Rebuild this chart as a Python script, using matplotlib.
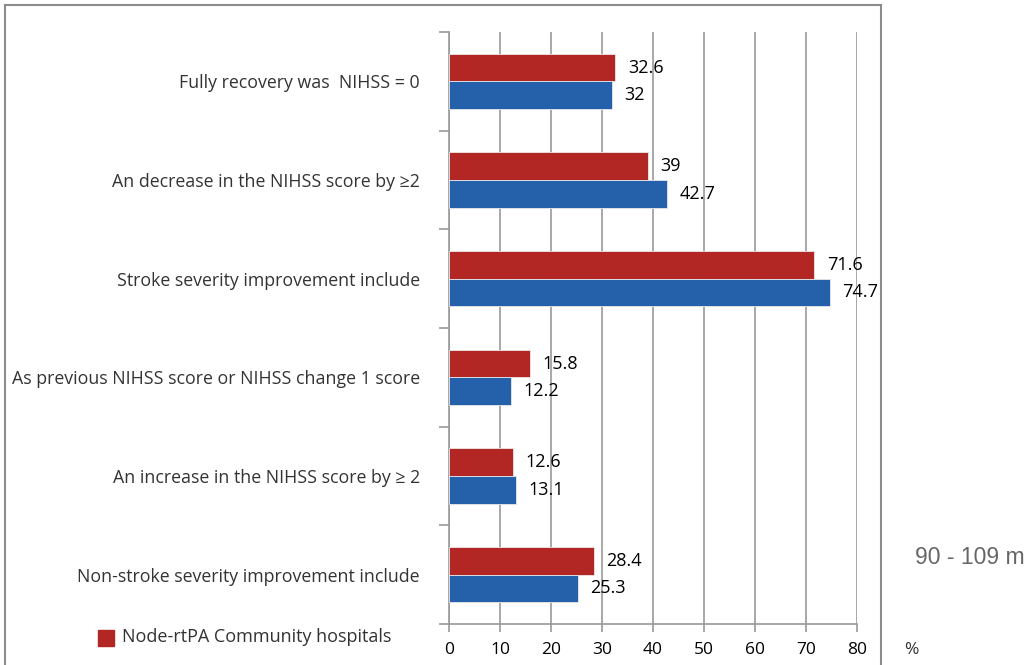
import matplotlib
matplotlib.use("Agg")
import matplotlib.pyplot as plt
import numpy as np
from matplotlib.lines import Line2D
from matplotlib.patches import Rectangle

categories = [
    "Fully recovery was  NIHSS = 0",
    "An decrease in the NIHSS score by \u22652",
    "Stroke severity improvement include",
    "As previous NIHSS score or NIHSS change 1 score",
    "An increase in the NIHSS score by \u2265 2",
    "Non-stroke severity improvement include",
]
red_values = [32.6, 39, 71.6, 15.8, 12.6, 28.4]
blue_values = [32, 42.7, 74.7, 12.2, 13.1, 25.3]
red_labels = ["32.6", "39", "71.6", "15.8", "12.6", "28.4"]
blue_labels = ["32", "42.7", "74.7", "12.2", "13.1", "25.3"]
xticks = [0, 10, 20, 30, 40, 50, 60, 70, 80]
legend_label = "Node-rtPA Community hospitals"

RED = "#B22624"
BLUE = "#2461AA"
GRID = "#9A9A9A"
TXT = "#333333"

plt.rcParams['font.family'] = ['Open Sans', 'DejaVu Sans']

fig = plt.figure(figsize=(10.31, 6.65), dpi=100)
W, H = 1031, 665
ax = fig.add_axes([449 / W, 1 - 624 / H, (857 - 449) / W, (624 - 32) / H])

n = len(categories)
centers = np.arange(n) + 0.5
bh = 0.28
ax.barh(centers - bh / 2, red_values, height=bh, color=RED, edgecolor="#E8E8E8", linewidth=0.6, zorder=3)
ax.barh(centers + bh / 2, blue_values, height=bh, color=BLUE, edgecolor="#E8E8E8", linewidth=0.6, zorder=3)

ax.set_xlim(0, 80)
ax.set_ylim(n, 0)

for i in range(n):
    ax.annotate(red_labels[i], (red_values[i], centers[i] - bh / 2), xytext=(9, 0),
                textcoords="offset points", va="center", ha="left", fontsize=13, color="black",
                zorder=4)
    ax.annotate(blue_labels[i], (blue_values[i], centers[i] + bh / 2), xytext=(9, 0),
                textcoords="offset points", va="center", ha="left", fontsize=13, color="black",
                zorder=4)

ax.set_xticks(xticks)
ax.set_xticklabels([str(t) for t in xticks], fontsize=12.5, color="black")
ax.xaxis.grid(True, color=GRID, linewidth=1.2, zorder=0)
ax.tick_params(axis="x", length=6, width=1.2, color=GRID, pad=7)

ax.set_yticks(np.arange(n + 1))
ax.set_yticklabels([])
ax.set_yticks(centers, minor=True)
ax.set_yticklabels(categories, minor=True, fontsize=12.75, color=TXT)
ax.tick_params(axis="y", which="major", length=7, width=1.2, color=GRID, direction="out")
ax.tick_params(axis="y", which="minor", length=0, pad=21)

for s in ["top", "right"]:
    ax.spines[s].set_visible(False)
for s in ["left", "bottom"]:
    ax.spines[s].set_color(GRID)
    ax.spines[s].set_linewidth(1.2)

fig.add_artist(Line2D([5 / W, 881 / W], [1 - 5 / H, 1 - 5 / H], color="#8C8C8C", lw=1.5, transform=fig.transFigure))
fig.add_artist(Line2D([5 / W, 5 / W], [1 - 5 / H, 0], color="#8C8C8C", lw=1.5, transform=fig.transFigure))
fig.add_artist(Line2D([881 / W, 881 / W], [1 - 5 / H, 0], color="#8C8C8C", lw=1.5, transform=fig.transFigure))

fig.add_artist(Rectangle((98 / W, 1 - 646 / H), 16 / W, 16 / H, color=RED, transform=fig.transFigure))
fig.text(122 / W, 1 - 637 / H, legend_label, fontsize=13, color=TXT, va="center", ha="left")

fig.text(904 / W, 1 - 650 / H, "%", fontsize=12.5, color=TXT, va="center", ha="left")
fig.text(915 / W, 1 - 558 / H, "90 - 109 m", fontsize=16.5, color="#666666", va="center", ha="left",
         family=["Liberation Sans", "DejaVu Sans"])

fig.savefig("out.png", dpi=100)
